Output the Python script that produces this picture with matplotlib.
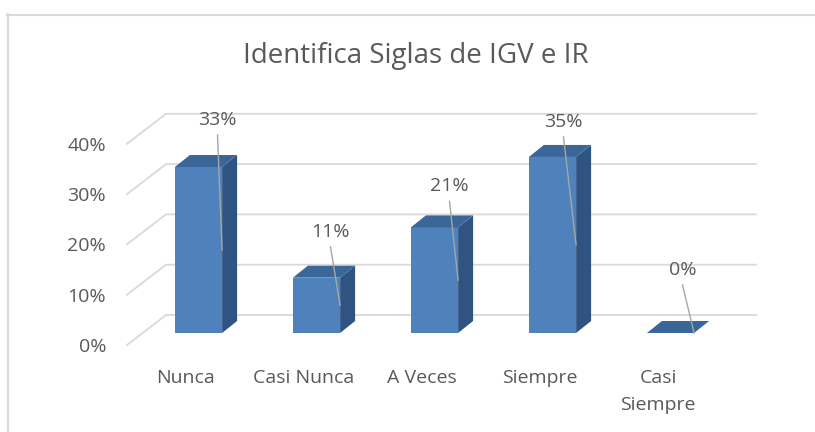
import matplotlib.pyplot as plt
from matplotlib.patches import Polygon
from matplotlib.lines import Line2D

plt.rcParams['font.family'] = ['Open Sans', 'DejaVu Sans']

# Datos del grafico
categorias = ["Nunca", "Casi Nunca", "A Veces", "Siempre", "Casi Siempre"]
etiquetas_x = ["Nunca", "Casi Nunca", "A Veces", "Siempre", "Casi\nSiempre"]
porcentajes = [0.33, 0.11, 0.21, 0.35, 0.0]
marcas_y = [0.0, 0.1, 0.2, 0.3, 0.4]
titulo = "Identifica Siglas de IGV e IR"

# desplazamiento de cada etiqueta de dato (pixeles) sobre la cara superior
desp_etiquetas = [(19, 47), (14, 46), (15, 41), (11, 35), (12, 63)]

W, H = 815, 432
gris_texto = '#595959'
gris_linea = '#D9D9D9'
tam = 14

fig = plt.figure(figsize=(W / 100, H / 100), dpi=100)
ax = fig.add_axes([127 / W, (H - 345) / H, 590 / W, 201.2 / H])
ax.set_xlim(-0.5, len(categorias) - 0.5)
ax.set_ylim(0, 0.4)

# profundidad de la pared (en unidades de datos)
px_x = 590 / len(categorias)
px_y = 201.2 / 0.4
DX, DY = 39 / px_x, 30 / px_y
# posicion y profundidad de las barras
BX, BY = 12.5 / px_x, 12 / px_y
PX, PY = 15 / px_x, 12 / px_y
media = 0.2

# lineas de division (piso/pared)
for v in marcas_y:
    ax.plot([-0.5, -0.5 + DX, len(categorias) - 0.5 + DX], [v, v + DY, v + DY],
            color=gris_linea, lw=1.3, clip_on=False, zorder=1)

# barras 3D
for i, v in enumerate(porcentajes):
    x0, x1 = i + BX - media, i + BX + media
    y0, y1 = BY, BY + v
    frente = [(x0, y0), (x1, y0), (x1, y1), (x0, y1)]
    lado = [(x1, y0), (x1 + PX, y0 + PY), (x1 + PX, y1 + PY), (x1, y1)]
    arriba = [(x0, y1), (x1, y1), (x1 + PX, y1 + PY), (x0 + PX, y1 + PY)]
    ax.add_patch(Polygon(frente, closed=True, fc='#4F81BD', ec='none', clip_on=False, zorder=3))
    ax.add_patch(Polygon(lado, closed=True, fc='#2F5482', ec='none', clip_on=False, zorder=3))
    ax.add_patch(Polygon(arriba, closed=True, fc='#3B6698', ec='none', clip_on=False, zorder=3))

    # etiqueta con linea guia
    dx, dy = desp_etiquetas[i]
    ax.annotate(f"{v:.0%}", xy=(i + BX, y1), xytext=(dx, dy), textcoords='offset pixels',
                ha='center', va='center', fontsize=tam, color=gris_texto, zorder=5)
    p = ax.transData.transform((i + BX, y1))
    inicio = ax.transData.inverted().transform((p[0] + dx, p[1] + dy - 15))
    ax.plot([inicio[0], x1], [inicio[1], BY + v / 2], color='#A6A6A6', lw=1,
            clip_on=False, zorder=4)

ax.set_yticks(marcas_y)
ax.set_yticklabels([f"{m:.0%}" for m in marcas_y])
ax.set_xticks(range(len(categorias)))
ax.set_xticklabels(etiquetas_x, linespacing=1.6)
ax.tick_params(length=0, labelsize=tam, labelcolor=gris_texto)
ax.tick_params(axis='y', pad=15)
ax.tick_params(axis='x', pad=17.5)
for lab in ax.get_yticklabels():
    lab.set_va('center_baseline')
for s in ax.spines.values():
    s.set_visible(False)

fig.text(416 / W, 1 - 63 / H, titulo, ha='center', va='baseline', fontsize=20, color=gris_texto)

# borde del area del grafico
fig.add_artist(Line2D([7.5 / W, 7.5 / W], [0, 1 - 14 / H], color=gris_linea, lw=1.5))
fig.add_artist(Line2D([7 / W, 1], [1 - 14.5 / H, 1 - 14.5 / H], color=gris_linea, lw=1.5))

fig.savefig("out.png", dpi=100)
